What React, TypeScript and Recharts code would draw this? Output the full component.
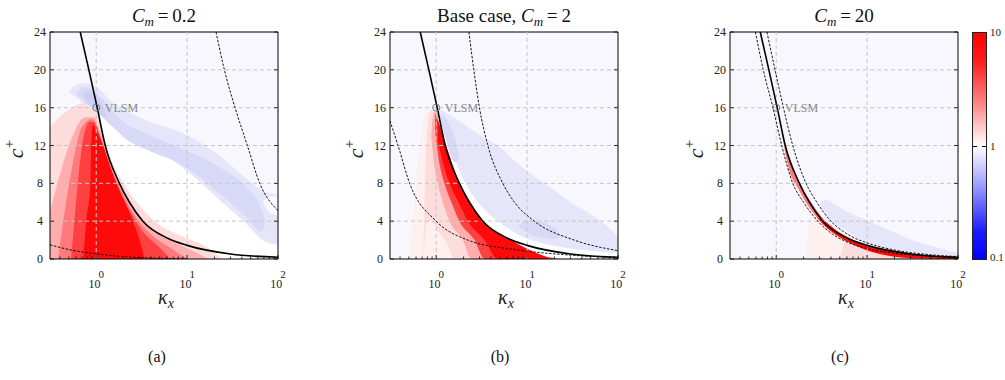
import React from 'react';
import { ComposedChart, Area, Line, XAxis, YAxis, CartesianGrid, ReferenceLine, ReferenceArea, ReferenceDot } from 'recharts';

const FONT = '"Liberation Serif", "DejaVu Serif", serif';
const BG = '#f7f7fd';
const KX_MIN = 0.31;
const KX_MAX = 100;

const yTicks = [0, 4, 8, 12, 16, 20, 24];
const yGrid = [4, 8, 12, 16, 20];
const xMajor = [1, 10, 100];
const xExp = ['0', '1', '2'];
const xMinor = [0.4, 0.5, 0.6, 0.7, 0.8, 0.9, 2, 3, 4, 5, 6, 7, 8, 9, 20, 30, 40, 50, 60, 70, 80, 90];
const xGrid = [1, 10];

const titlesPrefix = ['', 'Base case, ', ''];
const titlesCm = ['0.2', '2', '20'];
const panelTags = ['(a)', '(b)', '(c)'];
const barLabels = ['10', '1', '0.1'];

// [kx, c]
const solidCurve = [[0.667, 24], [0.83, 20], [1.025, 16], [1.256, 12], [1.8, 8], [2.32, 6], [3.26, 4], [6.1, 2.2], [10, 1.44], [30, 0.53], [100, 0.18]];
const dashA1 = [[0.31, 1.5], [0.5, 1.0], [1, 0.55], [2, 0.25], [4, 0.1], [10, 0.03]];
const dashA2 = [[20.8, 24], [25.7, 20], [33.7, 16], [46, 12], [63, 8], [100, 5.1]];
const dashB1 = [[0.31, 14.6], [0.38, 12], [0.51, 8], [1, 4], [2.23, 2], [7.3, 1], [25.7, 0.46], [100, 0.15]];
const dashB2 = [[2.29, 24], [2.59, 20], [2.99, 16], [3.7, 12], [5.4, 8], [7.26, 6], [12, 4], [33, 2], [100, 0.88]];
const dashC1 = [[0.59, 24], [0.72, 20], [0.92, 16], [1.15, 12], [1.52, 8], [2.0, 6], [2.87, 4], [4.2, 2.6], [6, 1.8], [10, 1.1], [20, 0.6], [50, 0.3], [100, 0.15]];
const dashC2 = [[0.79, 24], [0.97, 20], [1.2, 16], [1.52, 12], [2.13, 8], [2.8, 6], [4.0, 4], [5.5, 2.9], [7, 2.3], [10, 1.7], [20, 0.95], [50, 0.45], [100, 0.25]];

// contour bands: [kx, low, high]
const whiteA = [[1.0, 14, 16], [1.5, 10, 14.2], [2.5, 5, 13], [4, 3.5, 12], [10, 1.8, 9.5], [24, 0, 6.2], [46, 0, 3.8], [70, 0, 2.2], [100, 0, 1.6]];
const redA1 = [[0.31, 0, 14], [0.5, 0, 15.8], [0.75, 0, 16.5], [0.95, 0, 16.3], [1.1, 0, 14.5], [1.4, 0, 11], [2.0, 0, 8], [3.0, 0, 5.6], [4.4, 0, 4], [7, 0, 2.8], [10, 0, 2.2], [15.5, 0, 1.4], [20, 0, 0.7], [24, 0, 0]];
const redA2 = [[0.31, 0, 5], [0.4, 0, 9], [0.55, 0, 13], [0.75, 0, 15], [0.95, 0, 15], [1.1, 0, 13.5], [1.4, 0, 10.2], [2, 0, 7], [3, 0, 4.6], [4.4, 0, 3], [7, 0, 1.8], [12, 0, 0.8], [17, 0, 0]];
const redA3 = [[0.38, 0, 0], [0.45, 0, 5], [0.55, 0, 10], [0.7, 0, 14], [0.9, 0, 14.8], [1.05, 0, 13.5], [1.3, 0, 10.8], [1.8, 0, 7.6], [2.6, 0, 4.7], [4, 0, 2.6], [6.5, 0, 1.2], [10, 0, 0]];
const redA4 = [[0.53, 0, 0], [0.6, 0, 6], [0.7, 0, 12], [0.85, 0, 14.5], [0.95, 0, 14.5], [1.1, 0, 13], [1.5, 0, 9.2], [2.2, 0, 5.6], [3.2, 0, 3], [5, 0, 1.2], [6.5, 0, 0]];
const redA5 = [[0.72, 0, 0], [0.776, 0, 4], [0.866, 0, 8], [0.88, 0, 12], [0.92, 0, 14.2], [1.0, 0, 13.6], [1.18, 0, 12], [1.66, 0, 8], [2.53, 0, 4], [3.0, 0, 2], [3.4, 0, 0]];
const blueA1 = [[0.5, 17.65, 17.65], [0.6, 17.1, 18.4], [0.75, 16.4, 18.6], [1, 15.6, 18.2], [1.5, 14.0, 16.6], [2.42, 12.9, 15.4], [3.7, 12.1, 14.6], [10, 9.3, 13.1], [23.6, 6.1, 10.8], [46, 3.6, 8.4], [70, 1.9, 7.2], [100, 1.5, 6.8]];
const blueA2 = [[0.6, 17.5, 17.5], [0.75, 16.5, 18.2], [1, 15.8, 17.6], [1.3, 14.6, 16.4], [1.6, 13.8, 15.4], [2.05, 12.8, 14.4], [3.5, 11.6, 13.3], [8.6, 10, 11.7], [23.6, 6.8, 9.6], [46, 4.3, 7.5], [65, 2.9, 5.4], [72, 3.6, 4.0]];
const blueA3 = [[0.72, 17.3, 17.3], [0.85, 16.3, 17.8], [1.0, 15.7, 17.3], [1.15, 15.1, 16.4], [1.3, 15.0, 15.0]];
const notchA = [[68, 6.0, 6.0], [80, 5.0, 6.6], [100, 4.6, 6.6]];

const whiteB = [[1.04, 14.8, 16], [1.3, 12, 13.6], [1.8, 8, 9.6], [2.5, 5.6, 7.0], [3.4, 3.8, 5.4], [5, 2.6, 4.0], [7.26, 1.8, 3.0], [11, 0.9, 2.2], [20, 0.1, 1.4], [40, 0, 1.0], [100, 0, 0.7]];
const redB1 = [[0.5, 0, 0], [0.6, 0, 8], [0.7, 0, 14], [0.8, 0, 15.6], [0.9, 0, 16], [1.04, 0, 15.6], [1.34, 0, 11.6], [2, 0, 7.2], [4, 0, 3.8], [7.26, 0, 2.2], [12, 0, 1.2], [25, 0, 0.3]];
const redB2 = [[0.72, 0, 0], [0.8, 4, 14], [0.88, 4, 15.7], [1.04, 3, 15.4], [1.34, 1.5, 11.5], [1.59, 0, 9.6], [2.5, 0, 5.7], [4, 0, 3.6], [7.26, 0, 2.1], [12, 0, 1.1], [25, 0, 0.25]];
const redB3 = [[0.88, 13, 13], [0.95, 10, 15.6], [1.04, 8, 15.2], [1.2, 5.8, 12.9], [1.4, 4, 10.8], [1.96, 2, 7.2], [2.42, 0, 5.8], [3.4, 0, 4.05], [7.26, 0, 2.05], [11, 0, 1.1], [22, 0, 0.2]];
const redB4 = [[0.97, 13.5, 15.4], [1.1, 9.8, 14.1], [1.23, 8, 12.5], [1.5, 5.8, 10.3], [1.8, 4, 8], [2.64, 2, 5.2], [3.4, 0, 4], [7.26, 0, 2], [11, 0, 1.05], [20, 0, 0.15]];
const redB5 = [[1.04, 12.5, 15.3], [1.2, 10, 12.8], [1.4, 8, 10.9], [1.8, 5.8, 8], [2.23, 4, 6.2], [3.4, 2, 4], [4.76, 0, 3], [7.26, 0, 2], [11, 0, 1], [16.9, 0, 0.1]];
const blueB1 = [[1.0, 15.9, 16.2], [1.3, 13.3, 15.4], [1.8, 9.3, 14.6], [2.5, 6.8, 13.6], [3.4, 5.2, 12.8], [4.76, 4.0, 12], [7.26, 2.8, 10.4], [11, 2, 9], [15.5, 1.6, 8], [30, 1.1, 6], [65, 0.75, 4], [100, 0.6, 2.4]];
const blueB2 = [[1.08, 15.2, 15.2], [1.2, 13.5, 15.2], [1.4, 11.4, 14.2], [1.6, 10.2, 12.8], [1.8, 10.6, 10.6]];
const blueB3 = [[8.0, 3.5, 3.5], [10, 2.8, 4.1], [14, 2.3, 4.0], [19, 2.1, 3.4], [24, 2.4, 2.4]];

const redC1 = [[2.1, 0, 0], [2.4, 0, 4.4], [2.8, 0, 4.7], [4, 0, 3.4], [6, 0, 2.3], [10, 0, 1.4], [20, 0, 0.7], [40, 0, 0.4], [100, 0, 0.2]];
const redC2 = [[5, 0, 0], [6, 0, 2.1], [10, 0, 1.3], [20, 0, 0.75], [40, 0, 0.42], [100, 0, 0.18]];
const redC3 = [[1.2, 12.4, 12.4], [1.3, 10.5, 11.5], [1.8, 7.2, 8], [2.5, 5, 5.8], [3.4, 3.5, 4.1], [5, 2.3, 2.8], [7.3, 1.5, 1.95], [10, 1.0, 1.4], [20, 0.3, 0.85], [40, 0.1, 0.45], [100, 0, 0.2]];
const redC5 = [[2.8, 4.4, 4.4], [3.4, 3.55, 4.0], [5, 2.3, 2.75], [7.3, 1.45, 1.9], [10, 0.9, 1.35], [20, 0.25, 0.8], [40, 0.05, 0.42], [80, 0, 0.22], [100, 0, 0.18]];
const blueC1 = [[3.0, 5.9, 5.9], [3.5, 4.8, 6.3], [4.2, 3.9, 5.9], [6, 3.0, 5.0], [9.7, 1.75, 4.15], [20, 0.95, 2.8], [31.5, 0.7, 2.0], [60, 0.4, 1.2], [100, 0.25, 0.63]];

const RED1 = '#ffdcdc';
const RED2 = '#ffadad';
const RED3 = '#ff7a7a';
const RED4 = '#ff4040';
const RED5 = '#ff0a0a';
const BLUE1 = '#e5e6f9';
const BLUE2 = '#d8d9f6';
const BLUE3 = '#cbcff3';

type Band = { fill: string; pts: number[][] };
type Curve = { pts: number[][]; dashed: boolean };

const panels: { left: number; bands: Band[]; curves: Curve[] }[] = [
  {
    left: 0,
    bands: [
      { fill: '#ffffff', pts: whiteA },
      { fill: RED1, pts: redA1 },
      { fill: RED2, pts: redA2 },
      { fill: RED3, pts: redA3 },
      { fill: RED4, pts: redA4 },
      { fill: RED5, pts: redA5 },
      { fill: BLUE1, pts: blueA1 },
      { fill: BLUE2, pts: blueA2 },
      { fill: BLUE3, pts: blueA3 },
      { fill: '#fafafe', pts: notchA },
    ],
    curves: [
      { pts: dashA1, dashed: true },
      { pts: dashA2, dashed: true },
      { pts: solidCurve, dashed: false },
    ],
  },
  {
    left: 340,
    bands: [
      { fill: '#fdf0ef', pts: redB1 },
      { fill: RED1, pts: redB2 },
      { fill: RED2, pts: redB3 },
      { fill: RED4, pts: redB4 },
      { fill: RED5, pts: redB5 },
      { fill: '#ffffff', pts: whiteB },
      { fill: BLUE1, pts: blueB1 },
      { fill: BLUE2, pts: blueB2 },
      { fill: BLUE2, pts: blueB3 },
    ],
    curves: [
      { pts: dashB1, dashed: true },
      { pts: dashB2, dashed: true },
      { pts: solidCurve, dashed: false },
    ],
  },
  {
    left: 680,
    bands: [
      { fill: '#fdf0ef', pts: redC1 },
      { fill: RED1, pts: redC2 },
      { fill: RED3, pts: redC3 },
      { fill: RED5, pts: redC5 },
      { fill: BLUE1, pts: blueC1 },
    ],
    curves: [
      { pts: dashC1, dashed: true },
      { pts: dashC2, dashed: true },
      { pts: solidCurve, dashed: false },
    ],
  },
];

const PW = 228;
const xTicks = [...xMinor, ...xMajor].sort((a, b) => a - b);

const XTick = (props: any) => {
  const { x, y, payload } = props;
  const idx = xMajor.indexOf(payload.value);
  const len = idx >= 0 ? 4 : 2.5;
  return (
    <g>
      <line x1={x} x2={x} y1={y} y2={y - len} stroke="#000" strokeWidth={0.8} />
      {idx >= 0 && (
        <g fontFamily={FONT} fill="#222">
          <text x={x - 1.7} y={y + 29} fontSize={12} textAnchor="middle">10</text>
          <text x={x + 2.3} y={y + 19} fontSize={11} textAnchor="start">{xExp[idx]}</text>
        </g>
      )}
    </g>
  );
};

const YTick = (props: any) => {
  const { x, y, payload } = props;
  return (
    <g>
      <line x1={x} x2={x + 4} y1={y} y2={y} stroke="#000" strokeWidth={0.8} />
      <line x1={x + PW - 4} x2={x + PW} y1={y} y2={y} stroke="#000" strokeWidth={0.8} />
      <text x={x - 10} y={y + 4} fontSize={12} textAnchor="middle" fontFamily={FONT} fill="#222">{payload.value}</text>
    </g>
  );
};

const toRange = (pts: number[][]) => pts.map(p => ({ k: p[0], r: [p[1], p[2]] }));
const toLine = (pts: number[][]) => pts.map(p => ({ k: p[0], c: p[1] }));

function Panel({ index }: { index: number }) {
  const p = panels[index];
  return (
    <div style={{ position: 'absolute', left: p.left, top: 0, width: 300, height: 330 }}>
      <ComposedChart width={300} height={320} margin={{ top: 32, right: 22, bottom: 31, left: 20 }}>
        <CartesianGrid fill={BG} horizontal={false} vertical={false} />
        <XAxis dataKey="k" type="number" scale="log" domain={[KX_MIN, KX_MAX]} ticks={xTicks} interval={0}
          allowDataOverflow axisLine={false} tickLine={false} tickSize={0} tickMargin={0} height={30} tick={<XTick />} />
        <YAxis type="number" domain={[0, 24]} ticks={yTicks} interval={0} allowDataOverflow axisLine={false}
          tickLine={false} tickSize={0} tickMargin={0} width={30} tick={<YTick />} />
        {p.bands.map((b, i) => (
          <Area key={'b' + i} data={toRange(b.pts)} dataKey="r" type="monotone" fill={b.fill} fillOpacity={1}
            stroke="none" isAnimationActive={false} activeDot={false} />
        ))}
        {xGrid.map(v => <ReferenceLine key={'gx' + v} x={v} stroke="#c6c6c6" strokeDasharray="4 3" />)}
        {yGrid.map(v => <ReferenceLine key={'gy' + v} y={v} stroke="#c6c6c6" strokeDasharray="4 3" />)}
        {p.curves.map((c, i) => (
          <Line key={'c' + i} data={toLine(c.pts)} dataKey="c" type="monotone" stroke="#000"
            strokeWidth={c.dashed ? 0.9 : 1.6} strokeDasharray={c.dashed ? '2.5 1.5' : undefined}
            dot={false} activeDot={false} isAnimationActive={false} />
        ))}
        <ReferenceDot x={1} y={16} r={3.5} fill="none" stroke="#777" strokeWidth={1}
          label={{ value: 'VLSM', position: 'right', fill: '#8a8a8a', fontSize: 12, fontFamily: FONT }} />
        <ReferenceArea x1={KX_MIN} x2={KX_MAX} y1={0} y2={24} fill="none" fillOpacity={0} stroke="#000" strokeWidth={1} />
      </ComposedChart>
      <div style={{ position: 'absolute', left: 50, top: 6, width: PW, textAlign: 'center', fontFamily: FONT, fontSize: 19, lineHeight: '19px', color: '#111', whiteSpace: 'nowrap' }}>
        {titlesPrefix[index]}<i>C</i><span style={{ position: 'relative', top: 4, fontSize: 13 }}><i>m</i></span>{'\u2009=\u2009'}{titlesCm[index]}
      </div>
      <div style={{ position: 'absolute', left: 52, top: 287, width: PW, textAlign: 'center', fontFamily: '"Liberation Serif", serif', fontStyle: 'italic', fontSize: 20, lineHeight: '20px', fontWeight: 400, color: '#222' }}>
        κ<span style={{ position: 'relative', top: 4, fontSize: 14 }}>x</span>
      </div>
      <div style={{ position: 'absolute', left: -6, top: 136, width: 44, height: 26, transform: 'rotate(-90deg)', textAlign: 'center', fontFamily: '"Liberation Serif", serif', fontSize: 22, lineHeight: '26px', fontWeight: 400, color: '#222' }}>
        <i>c</i><span style={{ position: 'relative', top: -9, fontSize: 15 }}>+</span>
      </div>
    </div>
  );
}

export default function App() {
  return (
    <div style={{ position: 'absolute', left: 0, top: 0, width: 1005, height: 380, background: '#fff', overflow: 'hidden' }}>
      <Panel index={0} />
      <Panel index={1} />
      <Panel index={2} />
      <div style={{ position: 'absolute', left: 972, top: 32, width: 15, height: 228, boxSizing: 'border-box', border: '1px solid #222',
        background: 'linear-gradient(to bottom, #ff0000 0%, #ff1a1a 12%, #ff8a8a 32%, #ffffff 50%, #9a9aff 68%, #1a1aff 88%, #0000ff 100%)' }} />
      <div style={{ position: 'absolute', left: 973, top: 146, width: 4, height: 1, background: '#000' }} />
      <div style={{ position: 'absolute', left: 982, top: 146, width: 4, height: 1, background: '#000' }} />
      {barLabels.map((t, i) => (
        <div key={t} style={{ position: 'absolute', left: 990, top: [26, 140, 251][i], fontFamily: FONT, fontSize: 11, lineHeight: '12px', color: '#222' }}>{t}</div>
      ))}
      {panelTags.map((t, i) => (
        <div key={t} style={{ position: 'absolute', left: [157, 500, 840][i] - 20, width: 40, top: 349, textAlign: 'center', fontFamily: FONT, fontSize: 16, lineHeight: '16px', color: '#111' }}>{t}</div>
      ))}
    </div>
  );
}
